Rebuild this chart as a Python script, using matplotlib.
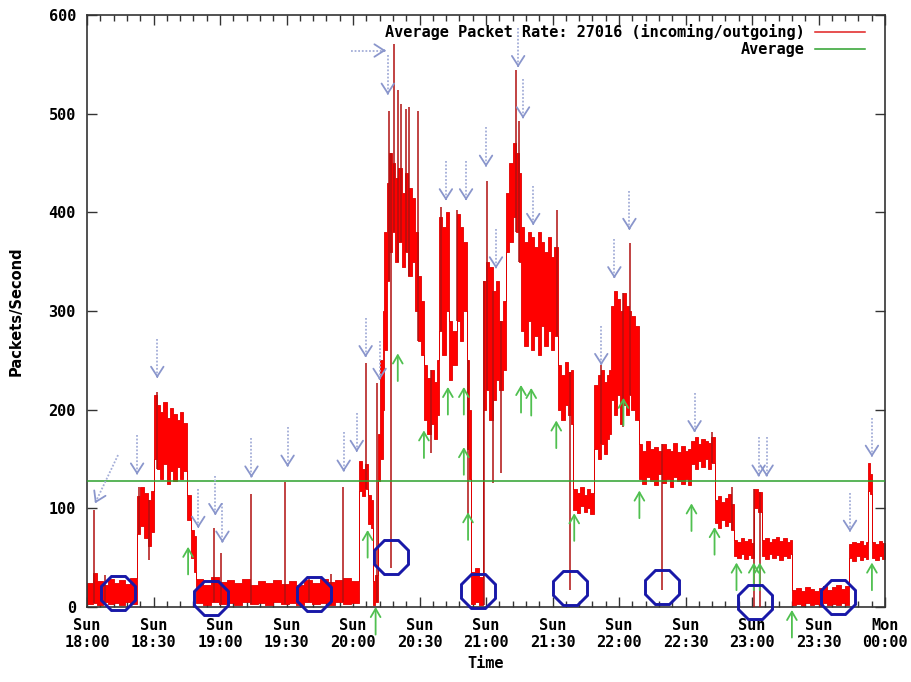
import numpy as np
import matplotlib
matplotlib.use('Agg')
import matplotlib.pyplot as plt

# time axis: minutes after Sun 18:00
t_end = 360
tick_pos = [0, 30, 60, 90, 120, 150, 180, 210, 240, 270, 300, 330, 360]
tick_lbl = ['Sun\n18:00', 'Sun\n18:30', 'Sun\n19:00', 'Sun\n19:30', 'Sun\n20:00',
            'Sun\n20:30', 'Sun\n21:00', 'Sun\n21:30', 'Sun\n22:00', 'Sun\n22:30',
            'Sun\n23:00', 'Sun\n23:30', 'Mon\n00:00']

# packet rate band: value range (low, high) held from each start time
band_t = [0, 2.5, 4.5, 7, 9.5, 12, 14.5, 17, 19.5,
          22.6, 24, 25.5, 27.5, 29,
          30.3, 31.5, 33, 34.5, 36, 37.5, 39, 40.5, 42, 43.5,
          45.2, 46.8, 48.3,
          49.3, 52.5, 56, 59.5, 63, 66.5, 70, 73.5, 77, 80.5, 84, 87.5, 91, 94.5,
          98, 101.5, 105, 108.5, 112, 115.5, 119,
          122.6, 124, 125.2, 126.6, 128, 128.9, 130, 131.2, 132.3, 133.4, 134.2,
          135.2, 136.3, 137.5, 139, 140.5, 142, 143.5, 145, 146.5, 148, 149.3, 150.7,
          152, 153.5, 155, 156.5, 158, 158.8, 160.3, 161.8, 163.3, 164.8, 166.9, 168.3,
          169.8, 171.4, 172.3,
          173.2, 175, 177,
          178.7, 180, 181.5, 183, 184.5, 186, 187.5,
          189.1, 190.5, 192, 193.5, 195,
          195.8, 197.3, 198.8, 200.3, 201.8, 203.3, 204.8, 206.3, 207.8, 209.3, 210.8,
          212.6, 214, 215.5, 217, 218.4,
          219.4, 221, 222.5, 224, 225.5, 227,
          228.9, 230.3, 231.7, 233.1, 234.5, 235.7,
          236.5, 237.8, 239.1, 240.4, 241.7, 243, 244.3, 245.6, 247,
          248.8, 250.5, 252.2, 254, 255.7, 257.5, 259.2, 261, 262.8, 264.5, 266.3, 268,
          269.8, 271.3,
          272.7, 274.2, 275.7, 277.2, 278.7, 280.2, 281.6,
          283.1, 284.6, 286.1, 287.6, 289.1, 290.5,
          291.7, 293.3, 294.9, 296.5, 298.1, 299.6,
          300.8, 302.6,
          304.4, 306, 307.6, 309.2, 310.8, 312.4, 314, 315.6, 317,
          318, 320, 322, 324, 326, 328, 330, 332, 334, 336, 338, 340, 342,
          343.7, 345.3, 346.9, 348.5, 350.1, 351.5,
          352.3, 353.4,
          354.1, 355.7, 357.3, 358.8]
band_lo = [3, 4, 2, 5, 3, 4, 2, 5, 3,
           74, 82, 70, 62, 76,
           150, 140, 130, 145, 125, 138, 128, 142, 130, 138,
           88, 50, 35,
           4, 2, 5, 3, 4, 2, 5, 3, 4, 2, 5, 3, 4, 2,
           5, 3, 4, 2, 5, 3, 4,
           118, 112, 120, 84, 80, 2, 5, 128, 150, 200, 260,
           330, 360, 380, 350, 370, 345, 360, 335, 350, 300, 270, 255,
           190, 175, 185, 170, 195, 280, 255, 300, 230, 245, 290, 270,
           300, 160, 130,
           3, 5, 2,
           200, 220, 190, 210, 230, 220, 240,
           360, 370, 395, 380, 350,
           280, 265, 290, 260, 275, 255, 285, 265, 280, 260, 275,
           200, 190, 205, 195, 185,
           98, 95, 102, 96, 100, 94,
           160, 150, 165, 155, 170, 175,
           210, 195, 215, 185, 205, 195, 215, 200, 190,
           130, 125, 132, 128, 124, 135, 126, 130, 122, 132, 128, 125,
           130, 124,
           145, 140, 148, 142, 150, 140, 146,
           85, 80, 88, 82, 86, 78,
           52, 50, 54, 49, 53, 50,
           100, 96,
           52, 49, 54, 50, 53, 48, 52, 50, 54,
           2, 3, 1, 4, 2, 3, 1, 4, 2, 3, 2, 4, 2,
           50, 47, 52, 48, 51, 49,
           118, 115,
           50, 48, 52, 49]
band_hi = [24, 34, 26, 22, 28, 24, 27, 23, 29,
           112, 122, 116, 108, 118,
           215, 205, 198, 208, 192, 202, 196, 190, 198, 186,
           113, 78, 72,
           28, 22, 30, 25, 27, 24, 28, 22, 26, 24, 27, 23, 26, 22,
           27, 24, 28, 25, 27, 29, 26,
           148, 140, 145, 114, 108, 26, 32, 175, 250, 300, 380,
           430, 460, 450, 435, 445, 420, 440, 425, 415, 380, 335, 310,
           245, 232, 240, 228, 250, 395, 385, 400, 290, 280, 398, 385,
           370, 250, 200,
           35, 40, 30,
           330, 350, 345, 320, 330, 290, 310,
           420, 450, 470, 460, 440,
           385, 370, 380, 375, 365, 380, 370, 360, 375, 355, 365,
           245, 235, 248, 238, 240,
           120, 116, 122, 114, 120, 116,
           225, 235, 240, 228, 235, 240,
           305, 320, 312, 300, 318, 305, 300, 295, 285,
           165, 158, 168, 160, 162, 158, 165, 160, 158, 166, 157, 163,
           158, 160,
           168, 172, 165, 170, 168, 166, 172,
           108, 112, 106, 110, 115, 104,
           68, 66, 70, 67, 69, 65,
           120, 117,
           68, 70, 66, 69, 71, 67, 70, 66, 68,
           17, 19, 16, 20, 18, 16, 19, 21, 17, 20, 22, 18, 21,
           64, 66, 65, 67, 63, 66,
           146, 135,
           66, 64, 67, 65]

# single samples sticking out above the band
spike_t = [3.2, 8, 23.5, 31.7, 57.4, 60.6, 74.2, 89.1, 100, 110, 115.3, 125.7,
           130.7, 136.2, 138.4, 140.2, 141.6, 143.8, 145.4, 149.3, 159.5, 167,
           180.5, 193.6, 195, 212.1, 232, 245.1, 281.8, 290.8]
spike_top = [98, 32, 122, 218, 80, 55, 115, 127, 30, 33, 122, 247,
             227, 503, 571, 524, 510, 505, 507, 503, 405, 402,
             432, 544, 493, 402, 245, 369, 177, 122]

# single samples dropping below the band
dip_t = [28, 137, 155, 171.9, 178.9, 183.2, 186.8, 218, 241.9, 259.2, 300.9, 303.8]
dip_bottom = [48, 40, 156, 91, 2, 126, 136, 17, 182, 17, 0, 0]

average = 128

# marked low points
circle_t = [14, 56.1, 102.2, 137, 176.4, 218, 259.2, 301.2, 338.8]
circle_v = [14, 9, 13, 51, 16, 19, 20, 5, 10]

# grey arrows: tail -> tip
gray_from_t = [14, 22.6, 31.7, 50.2, 57.9, 61.1, 74.2, 90.5, 115.8, 121.7, 125.7,
               132, 118.9, 135.7, 161.9, 171, 180, 184.5, 194.5, 196.7, 201.3,
               232, 237.9, 244.7, 274.1, 303, 306.6, 344.2, 354.1]
gray_from_v = [154, 174, 272, 120, 133, 105, 171, 182, 177, 197, 293,
               270, 564, 559, 452, 452, 486, 383, 587, 535, 427,
               285, 373, 422, 217, 172, 172, 116, 192]
gray_to_t = [3.6, 22.6, 31.7, 50.2, 57.9, 61.1, 74.2, 90.5, 115.8, 121.7, 125.7,
             132, 134.8, 135.7, 161.9, 171, 180, 184.5, 194.5, 196.7, 201.3,
             232, 237.9, 244.7, 274.1, 303, 306.6, 344.2, 354.1]
gray_to_v = [105, 134, 232, 80, 93, 65, 131, 142, 137, 157, 253,
             230, 564, 519, 412, 412, 446, 343, 547, 495, 387,
             245, 333, 382, 177, 132, 132, 76, 152]

# green arrows: tip position, pointing up
green_t = [45.6, 126.6, 130.2, 140.2, 152, 162.8, 170, 170, 171.9, 195.8, 200.4,
           211.7, 219.8, 242, 249.2, 272.7, 283.1, 293, 300.8, 303.5, 318, 354.1]
green_v = [61, 78, 0, 257, 179, 223, 223, 162, 96, 225, 222,
           189, 95, 212, 118, 105, 81, 45, 45, 45, -3, 45]

mono = 'DejaVu Sans Mono'

fig = plt.figure(figsize=(9.12, 6.82), dpi=100)
ax = fig.add_axes([0.0954, 0.11, 0.875, 0.868])

bx = np.array(band_t + [t_end])
blo = np.array(band_lo + [band_lo[-1]])
bhi = np.array(band_hi + [band_hi[-1]])
ax.fill_between(bx, blo, bhi, step='post', facecolor='#ff0000', edgecolor='#e00000',
                lw=0.6, zorder=2)

idx = np.searchsorted(band_t, spike_t, side='right') - 1
ax.vlines(spike_t, np.array(band_lo)[idx], spike_top, color='#b01010', lw=1.1, zorder=3)
idx = np.searchsorted(band_t, dip_t, side='right') - 1
ax.vlines(dip_t, dip_bottom, np.array(band_hi)[idx], color='#b01010', lw=1.1, zorder=3)

ax.axhline(average, color='#2ca02c', lw=1.1, zorder=4)

# legend entries
ax.plot([], [], color='#e02020', lw=1.1, label='Average Packet Rate: 27016 (incoming/outgoing)')
ax.plot([], [], color='#2ca02c', lw=1.1, label='Average')
ax.legend(loc='upper right', frameon=False, markerfirst=False, handlelength=3.3,
          prop={'family': mono, 'weight': 'bold', 'size': 11},
          borderaxespad=0.2, labelspacing=0.15, handletextpad=0.7,
          bbox_to_anchor=(0.987, 1.0))

# annotations
for x0, y0, x1, y1 in zip(gray_from_t, gray_from_v, gray_to_t, gray_to_v):
    ax.plot([x0, x1], [y0, y1], color='#a4aed8', lw=1.3, ls=(0, (1, 1)), zorder=5)
    ax.annotate('', xy=(x1, y1), xytext=(x1 + (x0 - x1) * 0.05, y1 + (y0 - y1) * 0.05),
                arrowprops=dict(arrowstyle='->,head_length=0.7,head_width=0.45',
                                color='#8a96cc', lw=1.3, shrinkA=0, shrinkB=0), zorder=6)
for x1, y1 in zip(green_t, green_v):
    ax.annotate('', xy=(x1, y1), xytext=(x1, y1 - 28), annotation_clip=False,
                arrowprops=dict(arrowstyle='->,head_length=0.6,head_width=0.35',
                                color='#50c050', lw=1.3, shrinkA=0, shrinkB=0), zorder=6)

ax.plot(circle_t, circle_v, ls='none', marker='8', ms=26, mfc='none',
        mec='#1818a8', mew=2.1, zorder=7, clip_on=False)

ax.set_xlim(0, t_end)
ax.set_ylim(0, 600)
ax.set_xticks(tick_pos)
ax.set_xticklabels(tick_lbl, family=mono, weight='bold', fontsize=11, linespacing=1.2)
ax.set_xticks(np.arange(0, t_end + 1, 6), minor=True)
ax.set_yticks(np.arange(0, 601, 100))
ax.set_yticklabels([str(v) for v in range(0, 601, 100)], family=mono, weight='bold', fontsize=11)
ax.tick_params(which='both', direction='in', top=True, right=True, width=1, color='#333333')
ax.tick_params(which='major', length=7, pad=8)
ax.tick_params(which='minor', length=4)
ax.tick_params(axis='y', which='minor', left=False, right=False)
for s in ax.spines.values():
    s.set_linewidth(1.2)
    s.set_color('#333333')

ax.set_xlabel('Time', family=mono, weight='bold', fontsize=11, labelpad=4)
ax.set_ylabel('Packets/Second', weight='bold', fontsize=10.5, labelpad=18)

fig.savefig('out.png', dpi=100, facecolor='white')
